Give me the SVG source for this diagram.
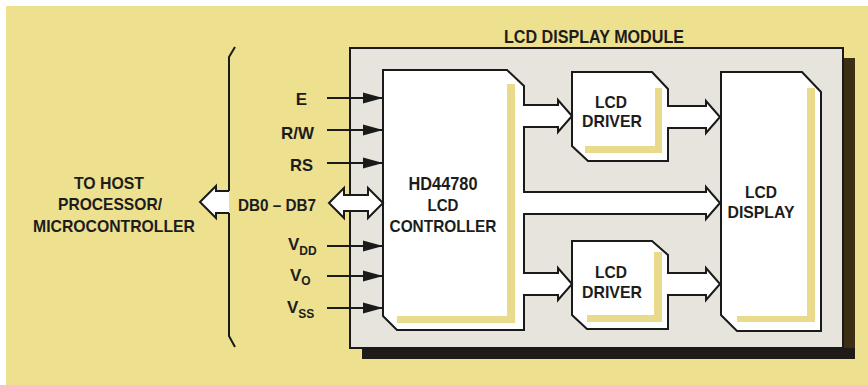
<svg xmlns="http://www.w3.org/2000/svg" width="868" height="385" viewBox="0 0 868 385">
  <defs>
    <style>
      .t { font-family: "Liberation Sans", Arial, sans-serif; font-weight: bold; fill: #1c1c1c; }
      .ln { fill: none; stroke: #1a1a1a; stroke-width: 2; stroke-linejoin: miter; }
      .wf { fill: #ffffff; stroke: none; }
      .ha { fill: #ffffff; stroke: #1a1a1a; stroke-width: 2; stroke-linejoin: miter; }
      .sig { fill: none; stroke: #1a1a1a; stroke-width: 2; marker-end: url(#ah); }
      .yl { fill: #e9da8c; }
    </style>
    <marker id="ah" viewBox="0 0 20 12" refX="20" refY="6" markerWidth="20" markerHeight="12" markerUnits="userSpaceOnUse" orient="auto">
      <path d="M0,0.5 L20,6 L0,11.5 Z" fill="#1a1a1a"/>
    </marker>
  </defs>

  <!-- background -->
  <rect x="0" y="0" width="868" height="385" fill="#ffffff"/>
  <rect x="6" y="6" width="862" height="379" fill="#ede08f"/>

  <!-- module frame -->
  <g id="module">
    <rect x="843" y="58" width="12" height="301" fill="#3d2f16"/>
    <rect x="362" y="348" width="493" height="11" fill="#1f1c17"/>
    <rect x="350" y="48" width="493" height="300" fill="#e7e4dd" stroke="#1a1a1a" stroke-width="2"/>
    <text class="t" x="594" y="43" font-size="18" text-anchor="middle" textLength="180" lengthAdjust="spacingAndGlyphs">LCD DISPLAY MODULE</text>
  </g>

  <!-- host -->
  <g id="host">
    <text class="t" x="109" y="189" font-size="17" text-anchor="middle" textLength="70" lengthAdjust="spacingAndGlyphs">TO HOST</text>
    <text class="t" x="110" y="210" font-size="17" text-anchor="middle" textLength="104" lengthAdjust="spacingAndGlyphs">PROCESSOR/</text>
    <text class="t" x="114" y="232" font-size="17" text-anchor="middle" textLength="162" lengthAdjust="spacingAndGlyphs">MICROCONTROLLER</text>
  </g>

  <!-- controller -->
  <g id="controller">
    <path class="wf" d="M383,70 H507 L524,86 V330 H397 L383,316 Z"/>
    <rect class="yl" x="507" y="84" width="8" height="239"/>
    <rect class="yl" x="397" y="316" width="118" height="7"/>
    <path class="ln" d="M524,105 V86 L507,70 H383 V316 L397,330 H524 V295 M524,273 V214 M524,192 V127"/>
    <text class="t" x="443" y="190" font-size="17.5" text-anchor="middle" textLength="69" lengthAdjust="spacingAndGlyphs">HD44780</text>
    <text class="t" x="443" y="211" font-size="17" text-anchor="middle" textLength="31" lengthAdjust="spacingAndGlyphs">LCD</text>
    <text class="t" x="443" y="232" font-size="17" text-anchor="middle" textLength="107" lengthAdjust="spacingAndGlyphs">CONTROLLER</text>
  </g>

  <!-- driver 1 -->
  <g id="driver1">
    <path class="wf" d="M572,72 H652 L668,89 V161 H588 L572,146 Z"/>
    <rect class="yl" x="655" y="88" width="7" height="65"/>
    <rect class="yl" x="585" y="146" width="77" height="7"/>
    <path class="ln" d="M668,105 V89 L652,72 H572 V146 L588,161 H668 V127"/>
    <text class="t" x="611" y="108" font-size="17" text-anchor="middle" textLength="32" lengthAdjust="spacingAndGlyphs">LCD</text>
    <text class="t" x="612" y="127" font-size="17" text-anchor="middle" textLength="60" lengthAdjust="spacingAndGlyphs">DRIVER</text>
  </g>

  <!-- driver 2 -->
  <g id="driver2">
    <path class="wf" d="M572,241 H652 L668,255 V329 H587 L572,315 Z"/>
    <rect class="yl" x="654" y="252" width="8" height="70"/>
    <rect class="yl" x="587" y="315" width="75" height="7"/>
    <path class="ln" d="M668,273 V255 L652,241 H572 V315 L587,329 H668 V295"/>
    <text class="t" x="611" y="278" font-size="17" text-anchor="middle" textLength="32" lengthAdjust="spacingAndGlyphs">LCD</text>
    <text class="t" x="612" y="298" font-size="17" text-anchor="middle" textLength="60" lengthAdjust="spacingAndGlyphs">DRIVER</text>
  </g>

  <!-- display -->
  <g id="display">
    <path class="wf" d="M721,72 H802 L821,92 V331 H737 L721,315 Z"/>
    <rect class="yl" x="807" y="88" width="8" height="234"/>
    <rect class="yl" x="737" y="316" width="78" height="6"/>
    <path class="ln" d="M721,72 H802 L821,92 V331 H737 L721,315 Z"/>
    <text class="t" x="761" y="198" font-size="17" text-anchor="middle" textLength="32" lengthAdjust="spacingAndGlyphs">LCD</text>
    <text class="t" x="761" y="218" font-size="17" text-anchor="middle" textLength="67" lengthAdjust="spacingAndGlyphs">DISPLAY</text>
  </g>

  <!-- signal labels -->
  <g id="labels">
    <text class="t" x="307" y="105" font-size="17" text-anchor="end">E</text>
    <text class="t" x="314" y="139" font-size="17" text-anchor="end" textLength="33" lengthAdjust="spacingAndGlyphs">R/W</text>
    <text class="t" x="313" y="171" font-size="17" text-anchor="end" textLength="23" lengthAdjust="spacingAndGlyphs">RS</text>
    <text class="t" x="316" y="211" font-size="17" text-anchor="end" textLength="78" lengthAdjust="spacingAndGlyphs">DB0 – DB7</text>
    <text class="t" x="288" y="250" font-size="17">V<tspan font-size="12" dy="5">DD</tspan></text>
    <text class="t" x="290" y="281" font-size="17">V<tspan font-size="12" dy="4">O</tspan></text>
    <text class="t" x="287" y="313" font-size="17">V<tspan font-size="12" dy="5">SS</tspan></text>
  </g>

  <!-- connectors -->
  <g id="connectors">
    <line class="sig" x1="327" y1="98" x2="383" y2="98"/>
    <line class="sig" x1="327" y1="130" x2="383" y2="130"/>
    <line class="sig" x1="327" y1="163" x2="383" y2="163"/>
    <line class="sig" x1="327" y1="246" x2="383" y2="246"/>
    <line class="sig" x1="327" y1="276" x2="383" y2="276"/>
    <line class="sig" x1="327" y1="308" x2="383" y2="308"/>
    <!-- data bus double arrow -->
    <path class="ha" d="M329,203 L344,188 V195 H368 V188 L383,203 L368,218 V211 H344 V218 Z"/>
    <!-- bracket with host arrow -->
    <path class="ha" d="M229,191 H216 V186 L200,202 L216,218 V213 H229"/>
    <path class="ln" d="M235,47 L229,57 V191 M229,213 V336 L235,347"/>
    <!-- internal hollow arrows -->
    <path class="ha" d="M523,105 H558 V100 L572,116 L558,132 V127 H523"/>
    <path class="ha" d="M667,106 H706 V101 L720,117 L706,133 V128 H667"/>
    <path class="ha" d="M523,192 H706 V187 L720,203 L706,219 V214 H523"/>
    <path class="ha" d="M523,273 H558 V268 L572,284 L558,300 V295 H523"/>
    <path class="ha" d="M667,273 H706 V268 L720,284 L706,300 V295 H667"/>
  </g>
</svg>
